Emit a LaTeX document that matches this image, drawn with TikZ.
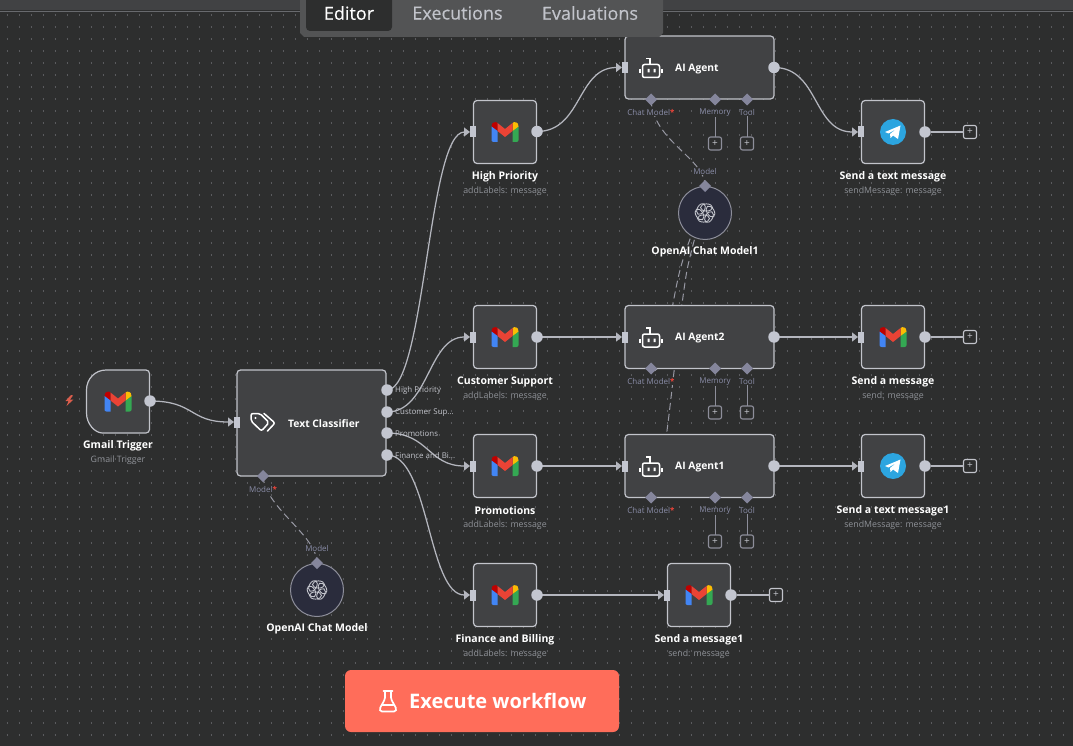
\documentclass[tikz,border=0pt]{standalone}
\usepackage{fontspec}
\setmainfont{Open Sans}
\usetikzlibrary{arrows.meta,shapes.geometric}
\definecolor{bgc}{HTML}{2D2E2E}
\definecolor{dotc}{HTML}{5A5B5E}
\definecolor{nodefill}{HTML}{414244}
\definecolor{nodeline}{HTML}{C2C4CB}
\definecolor{portc}{HTML}{C3C6D0}
\definecolor{edgec}{HTML}{B4B6BE}
\definecolor{subc}{HTML}{8F9298}
\definecolor{diac}{HTML}{85869C}
\definecolor{lblc}{HTML}{8A8DA8}
\definecolor{oafill}{HTML}{2A2C3C}
\definecolor{oaline}{HTML}{8D8E9A}
\definecolor{coral}{HTML}{FF6D5A}
\definecolor{tabc}{HTML}{535455}
\definecolor{reddot}{HTML}{F0453A}
\newcommand{\reqmark}{\textcolor{reddot}{\textbf{*}}}
\tikzset{
  x=1pt,y=-1pt,
  flowbox/.style={draw=nodeline,fill=nodefill,line width=1.2pt,rounded corners=3.5pt,inner sep=0pt,outer sep=0pt},
  smallbox/.style={flowbox,minimum width=63pt,minimum height=63pt},
  agentbox/.style={flowbox,minimum width=149pt,minimum height=63pt},
  oacircle/.style={circle,draw=oaline,fill=oafill,line width=1pt,minimum size=53pt,inner sep=0pt,outer sep=0pt},
  outp/.style={circle,fill=portc,minimum size=11.5pt,inner sep=0pt,outer sep=0pt},
  inp/.style={rectangle,fill=portc,minimum width=6pt,minimum height=11pt,inner sep=0pt,outer sep=0pt},
  dia/.style={diamond,fill=diac,minimum size=12pt,inner sep=0pt,outer sep=0pt},
  edge/.style={draw=edgec,line width=1.25pt,-{Triangle[length=6pt,width=9pt]}},
  plainedge/.style={draw=edgec,line width=1.25pt},
  dashedge/.style={draw=oaline!90,line width=1pt,dash pattern=on 7pt off 4pt},
  stem/.style={draw=oaline,line width=1pt},
  plusbox/.style={draw=nodeline,fill=bgc,rounded corners=2pt,line width=1.1pt,minimum size=13pt,inner sep=0pt,outer sep=0pt,text=nodeline,font=\fontsize{10}{10}\selectfont},
  plusboxd/.style={plusbox,draw=oaline},
  title/.style={text=white,yshift=-1.5pt,font=\fontsize{10.5}{12}\selectfont\bfseries,inner sep=0pt},
  subtitle/.style={text=subc,yshift=-1pt,font=\fontsize{8.8}{10}\selectfont,inner sep=0pt},
  plabel/.style={text=lblc,yshift=-0.5pt,font=\fontsize{8}{9}\selectfont,inner sep=0.5pt},
  olabel/.style={text=nodeline,yshift=-0.5pt,font=\fontsize{7.9}{9}\selectfont,inner sep=0pt,anchor=west},
  agenttext/.style={text=white,yshift=-1.5pt,font=\fontsize{10.3}{12}\selectfont\bfseries,inner sep=0pt,anchor=west},
  tab/.style={text=#1,font=\fontsize{18}{20}\selectfont\addfontfeature{FakeBold=0.3},inner sep=0pt},
  gmail/.pic={
    \fill[color=red!75!black] (-13.5,-5.5) .. controls (-13.5,-10.5) and (-9,-10.5) .. (-7.5,-9) -- (-7.5,-1) -- (-13.5,-5.5) -- cycle;
    \fill[color={rgb,255:red,66;green,133;blue,244}] (-13.5,-5.5) -- (-7.5,-1) -- (-7.5,10) -- (-11.5,10) .. controls (-13,10) and (-13.5,9) .. (-13.5,8) -- cycle;
    \fill[color={rgb,255:red,52;green,168;blue,83}] (13.5,-5.5) -- (7.5,-1) -- (7.5,10) -- (11.5,10) .. controls (13,10) and (13.5,9) .. (13.5,8) -- cycle;
    \fill[color={rgb,255:red,251;green,188;blue,4}] (13.5,-5.5) .. controls (13.5,-10.5) and (9,-10.5) .. (7.5,-9) -- (7.5,-1) -- cycle;
    \fill[color={rgb,255:red,234;green,67;blue,53}] (-7.5,-9) -- (0,-3) -- (7.5,-9) -- (7.5,-1) -- (0,5) -- (-7.5,-1) -- cycle;
  },
  telegram/.pic={
    \fill[color={rgb,255:red,44;green,165;blue,224}] (0,0) circle (13);
    \fill[white] (-8,0) -- (7.5,-6.5) -- (5,7) -- (0,3.5) -- (-2.5,6) -- (-3,2) -- (4,-3.5) -- (-4.5,1.5) -- cycle;
  },
  oaicon/.pic={
    \foreach \a in {0,60,...,300}{\draw[color=nodeline,line width=0.9pt,rotate=\a] (1.5,-5.5) ellipse (6 and 3.6);}
  },
  robot/.pic={
    \draw[white,line width=1.5pt,rounded corners=2pt] (-8.5,-3) rectangle (8.5,10);
    \draw[white,line width=1.5pt] (-1,-3) -- (-1,-9) -- (-5,-9);
    \draw[white,line width=1.5pt] (-11,2) -- (-11,6) (11,2) -- (11,6);
    \fill[white] (-3.5,1.5) rectangle (-1.5,5) (2.5,1.5) rectangle (4.5,5);
  },
  tagicon/.pic={
    \draw[white,line width=1.5pt,rounded corners=2pt,line join=round] (-12,-8.5) -- (-3,-8.5) -- (6,0.5) -- (-1.5,9) -- (-12,-1) -- cycle;
    \fill[white] (-7.5,-4) circle (1.2);
    \draw[white,line width=1.5pt,line cap=round,rounded corners=2pt] (1,-8.5) -- (12,1) -- (4.5,9);
  },
  flask/.pic={
    \draw[white,line width=1.7pt,rounded corners=1.5pt,line join=round] (-3,-10) -- (-3,-2) -- (-8.5,8) -- (-7.5,10.5) -- (7.5,10.5) -- (8.5,8) -- (3,-2) -- (3,-10);
    \draw[white,line width=1.7pt,line cap=round] (-4.5,-10) -- (4.5,-10) (-5.5,4) -- (5.5,4);
  }
}
\begin{document}
\begin{tikzpicture}
\useasboundingbox (0,0) rectangle (1073,746);
\fill[bgc] (0,0) rectangle (1073,746);
% dotted canvas: one dashed line per row of dots
\foreach \j in {0,...,60}{
  \draw[dotc,line width=1.1pt,dash pattern=on 1.1pt off 10.9pt] (6.5,{15+12*\j}) -- (1073,{15+12*\j});
}
% top bar
\fill[nodefill] (0,0) rectangle (1073,10.5);
\draw[color=subc!60!bgc,line width=0.8pt] (0,11) -- (1073,11);

% connector end points
\coordinate (gtout) at (150,401);
\coordinate (tcin) at (234,422);
\coordinate (hpin) at (470,132);
\coordinate (csin) at (470,337);
\coordinate (prin) at (470,466);
\coordinate (fbin) at (470,595);
\coordinate (o1) at (387,390);
\coordinate (o2) at (387,412);
\coordinate (o3) at (387,433);
\coordinate (o4) at (387,455);
\coordinate (hpout) at (537,131.5);
\coordinate (csout) at (537,337);
\coordinate (prout) at (537,466);
\coordinate (fbout) at (537,595);
\coordinate (a0in) at (622,67.5);
\coordinate (a2in) at (622,337);
\coordinate (a1in) at (622,466);
\coordinate (a0out) at (774,67.5);
\coordinate (a2out) at (774,337);
\coordinate (a1out) at (774,466);
\coordinate (s0in) at (858,132);
\coordinate (s2in) at (858,337);
\coordinate (s1in) at (858,466);
\coordinate (s3in) at (664,595);
\coordinate (tcm) at (263,476);
\coordinate (oam) at (317,563);
\coordinate (a0m) at (651,99.5);
\coordinate (a2m) at (651,368.5);
\coordinate (a1m) at (651,497.5);
\coordinate (oa1m) at (705,186);
\coordinate (a0n) at (715,99.5);
\coordinate (a0t) at (747,99.5);
\coordinate (a2n) at (715,368.5);
\coordinate (a2t) at (747,368.5);
\coordinate (a1n) at (715,497.5);
\coordinate (a1t) at (747,497.5);

\draw[edge] (gtout) .. controls +(45,0) and +(-45,0) .. (tcin);
\draw[edge] (o1) .. controls +(38,0) and +(-42,0) .. (hpin);
\draw[edge] (o2) .. controls +(42,0) and +(-42,0) .. (csin);
\draw[edge] (o3) .. controls +(42,0) and +(-42,0) .. (prin);
\draw[edge] (o4) .. controls +(42,0) and +(-42,0) .. (fbin);
\draw[edge] (hpout) .. controls +(45,0) and +(-45,0) .. (a0in);
\draw[edge] (csout) -- (a2in);
\draw[edge] (prout) -- (a1in);
\draw[edge] (fbout) -- (s3in);
\draw[edge] (a0out) .. controls +(45,0) and +(-45,0) .. (s0in);
\draw[edge] (a2out) -- (s2in);
\draw[edge] (a1out) -- (s1in);
% dashed model links
\draw[dashedge] (tcm) .. controls +(2,32) and +(0,-28) .. (oam);
\draw[dashedge] (a0m) .. controls +(2,42) and +(0,-28) .. (oa1m);
\draw[dashedge] (oa1m) .. controls (705,210) and (690,232) .. (680,270) .. controls (670,310) and (662,385) .. (a2m);
\draw[dashedge] (oa1m) .. controls (705,210) and (695,232) .. (687,270) .. controls (675,340) and (663,510) .. (a1m);

% nodes
\node[inner sep=0pt,minimum width=63pt,minimum height=63pt] (gt) at (118,401.5) {};
\draw[flowbox] (106,370) -- (149.5,370) -- (149.5,433) -- (106,433) [sharp corners] .. controls (95,433) and (86.5,424) .. (86.5,413) -- (86.5,390) .. controls (86.5,379) and (95,370) .. (106,370) -- cycle;
\node[flowbox,minimum width=149pt,minimum height=106pt] (tc) at (311.5,423) {};
\node[smallbox] (hp) at (505,132) {};
\node[smallbox] (cs) at (505,337) {};
\node[smallbox] (pr) at (505,466) {};
\node[smallbox] (fb) at (505,595) {};
\node[agentbox] (a0) at (699.5,67.5) {};
\node[agentbox] (a2) at (699.5,337) {};
\node[agentbox] (a1) at (699.5,466) {};
\node[smallbox] (s0) at (893,132) {};
\node[smallbox] (s2) at (893,337) {};
\node[smallbox] (s1) at (893,466) {};
\node[smallbox] (s3) at (699,595) {};
\node[oacircle] (oa) at (317,590) {};
\node[oacircle] (oa1) at (705,213) {};

% icons
\pic at (118,401.5) {gmail};
\pic at (505,132) {gmail};
\pic at (505,337) {gmail};
\pic at (505,466) {gmail};
\pic at (505,595) {gmail};
\pic at (699,595) {gmail};
\pic at (893,337) {gmail};
\pic at (893,132) {telegram};
\pic at (893,466) {telegram};
\pic at (317,590) {oaicon};
\pic at (705,213) {oaicon};
\pic at (651,67.5) {robot};
\pic at (651,337) {robot};
\pic at (651,466) {robot};
\pic at (263,422) {tagicon};
% trigger bolt
\fill[color=coral!85!black] (71,395) -- (65.5,401) -- (68.5,401) -- (66.5,406) -- (73.5,399.5) -- (70,399.5) -- (73,395.5) -- cycle;

% output ports and stubs
\foreach \n/\p in {pgo/gtout,ph/hpout,pc/csout,pp/prout,pf/fbout,pa0/a0out,pa2/a2out,pa1/a1out,po1/o1,po2/o2,po3/o3,po4/o4}{\node[outp] (\n) at (\p) {};}
% input ports
\node[inp] (itc) at (237,422) {};
\node[inp] (ihp) at (473,132) {};
\node[inp] (ics) at (473,337) {};
\node[inp] (ipr) at (473,466) {};
\node[inp] (ifb) at (473,595) {};
\node[inp] (ia0) at (625,67.5) {};
\node[inp] (ia2) at (625,337) {};
\node[inp] (ia1) at (625,466) {};
\node[inp] (is0) at (861,132) {};
\node[inp] (is2) at (861,337) {};
\node[inp] (is1) at (861,466) {};
\node[inp] (is3) at (667,595) {};

% classifier output labels
\node[olabel] at (395,390) {High Priority};
\node[olabel] at (395,412) {Customer Sup...};
\node[olabel] at (395,433) {Promotions};
\node[olabel] at (395,455) {Finance and Bi...};

% titles
\node[title] at (118,444) {Gmail Trigger};
\node[subtitle] at (118,459) {Gmail Trigger};
\node[agenttext] at (288,422) {Text Classifier};
\node[title] at (505,175) {High Priority};
\node[subtitle] at (505,190) {addLabels: message};
\node[title] at (505,380) {Customer Support};
\node[subtitle] at (505,395) {addLabels: message};
\node[title] at (505,509) {Promotions};
\node[subtitle] at (505,524) {addLabels: message};
\node[title] at (505,638) {Finance and Billing};
\node[subtitle] at (505,653) {addLabels: message};
\node[title] at (699,638) {Send a message1};
\node[subtitle] at (699,653) {send: message};
\node[title] at (893,175) {Send a text message};
\node[subtitle] at (893,190) {sendMessage: message};
\node[title] at (893,380) {Send a message};
\node[subtitle] at (893,395) {send: message};
\node[title] at (893,509) {Send a text message1};
\node[subtitle] at (893,524) {sendMessage: message};
\node[title] at (317,627) {OpenAI Chat Model};
\node[title] at (705,250) {OpenAI Chat Model1};
\node[agenttext] at (675,67.5) {AI Agent};
\node[agenttext] at (675,337) {AI Agent2};
\node[agenttext] at (675,466) {AI Agent1};

% model ports and their labels
\foreach \n/\p in {dtc/tcm,doa/oam,da0m/a0m,da2m/a2m,da1m/a1m,doa1/oa1m,da0n/a0n,da0t/a0t,da2n/a2n,da2t/a2t,da1n/a1n,da1t/a1t}{\node[dia] (\n) at (\p) {};}
\node[plabel,fill=bgc] (ltc) at (263,489) {Model\reqmark};
\node[plabel,fill=bgc] (loa) at (317,548) {Model};
\node[plabel,fill=bgc] (loa1) at (705,171) {Model};
\foreach \a/\y/\b in {a0/112/137,a2/381/406,a1/510/535}{
  \node[plabel,fill=bgc] (l\a m) at (651,\y) {Chat Model\reqmark};
  \node[plabel] (l\a n) at (715,\y) {Memory};
  \node[plabel] (l\a t) at (747,\y) {Tool};
  \node[plusboxd,anchor=north] (p\a n) at (715,\b) {+};
  \node[plusboxd,anchor=north] (p\a t) at (747,\b) {+};
  \draw[stem] (l\a n) -- (p\a n);
  \draw[stem] (l\a t) -- (p\a t);
}
% plus boxes on the trailing outputs
\node[outp] (e0) at (925,132) {};
\node[outp] (e2) at (925,337) {};
\node[outp] (e1) at (925,466) {};
\node[outp] (e3) at (731,595) {};
\node[plusbox] (q0) at (970,132) {+};
\node[plusbox] (q2) at (970,337) {+};
\node[plusbox] (q1) at (970,466) {+};
\node[plusbox] (q3) at (776,595) {+};
\draw[plainedge] (e0) -- (q0);
\draw[plainedge] (e2) -- (q2);
\draw[plainedge] (e1) -- (q1);
\draw[plainedge] (e3) -- (q3);

% tabs
\fill[tabc] (300,0) -- (300,33) -- (304,37) -- (659,37) -- (663,33) -- (663,0) -- cycle;
\fill[bgc,rounded corners=4pt] (306,-8) rectangle (392,31);
\node[tab=white] at (349,13) {Editor};
\node[tab=nodeline] at (457.5,13) {Executions};
\node[tab=nodeline] at (590,13) {Evaluations};

% execute button
\node[fill=coral,rounded corners=6pt,minimum width=274pt,minimum height=62pt,inner sep=0pt] (exec) at (482,701) {};
\pic at (388,701) {flask};
\node[text=white,font=\fontsize{20}{22}\selectfont\bfseries,inner sep=0pt,anchor=west] at (409,701) {Execute workflow};
\end{tikzpicture}
\end{document}
